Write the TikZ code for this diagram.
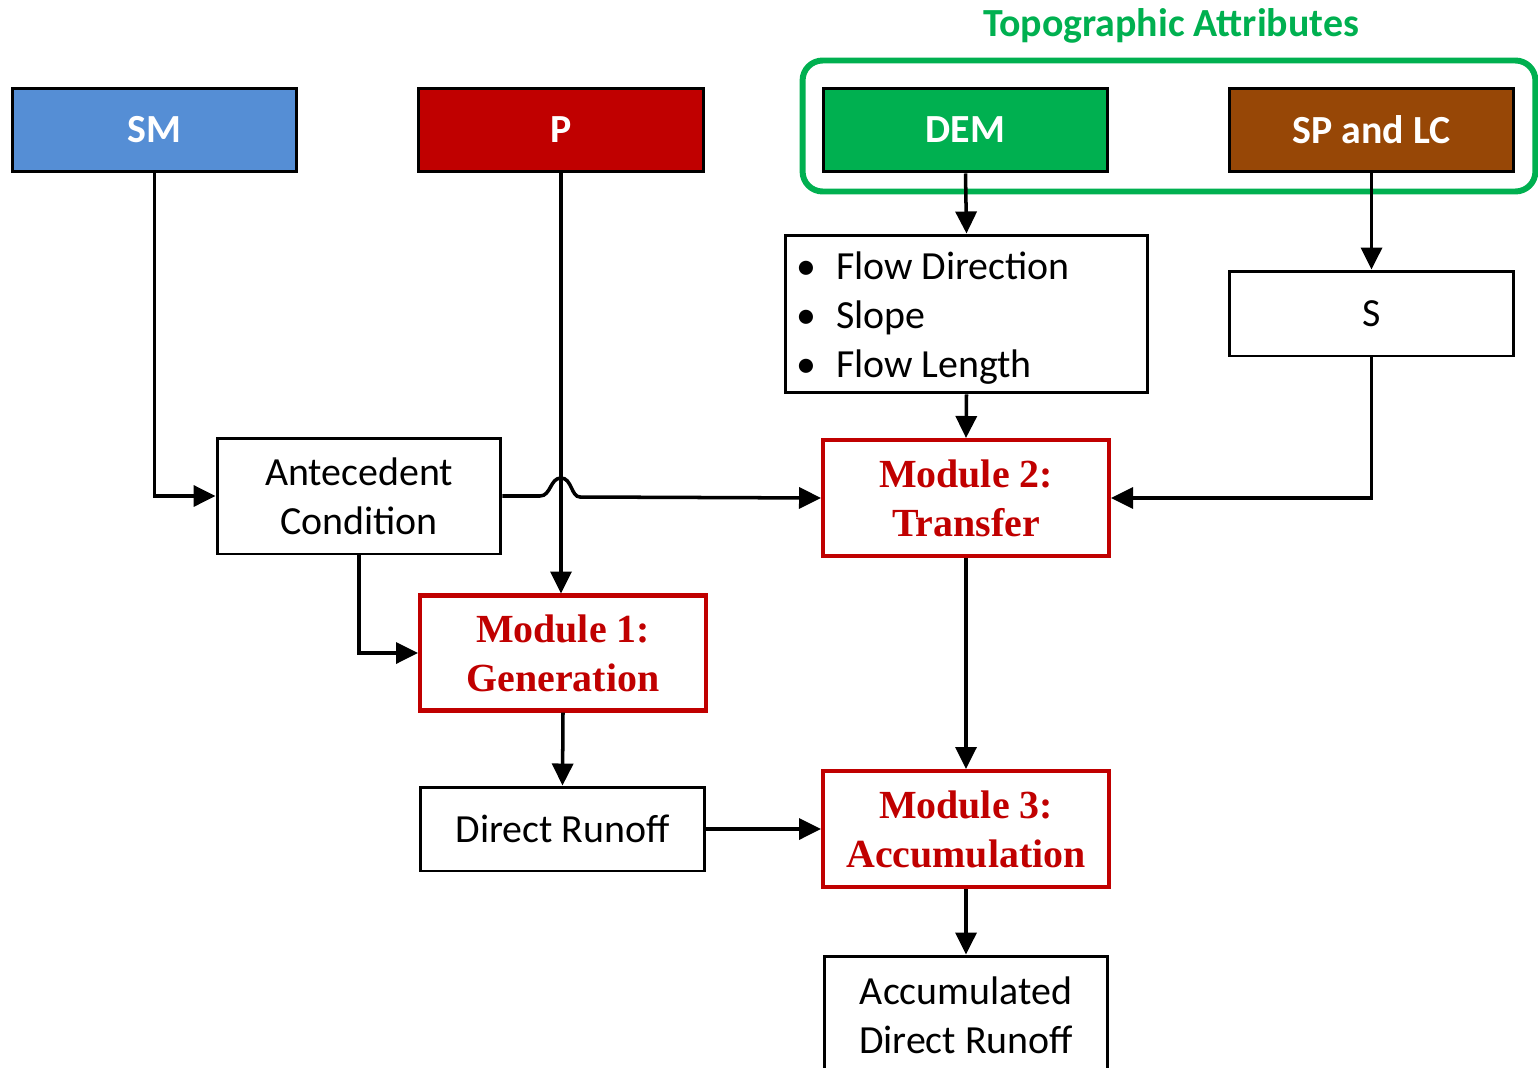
\documentclass[tikz,border=0pt]{standalone}
\usepackage{fontspec}
\setmainfont{Carlito}
\newfontfamily\tnr{Liberation Serif}
\usetikzlibrary{arrows.meta,calc}
\definecolor{smblue}{HTML}{558ED5}
\definecolor{pred}{HTML}{C00000}
\definecolor{demgreen}{HTML}{00B050}
\definecolor{spbrown}{HTML}{974706}
\newcommand{\fsz}{\fontsize{22.7}{27.8}\selectfont}
\newcommand{\bul}{\makebox[0.72cm][l]{\hspace{-0.08cm}•}}
\tikzset{
  box/.style={draw=black, line width=1.7pt, inner sep=0pt, minimum width=5.7cm, minimum height=1.68cm, align=center, font=\fsz},
  inbox/.style={box, text=white, font=\fsz\bfseries},
  modbox/.style={draw=pred, line width=2.3pt, inner sep=0pt, minimum width=5.72cm, minimum height=2.32cm, align=center, text=pred, font=\fsz\tnr\bfseries},
  conn/.style={line width=2pt, -{Triangle[length=0.44cm, width=0.42cm]}},
}
\begin{document}
\begin{tikzpicture}[x=0.02cm, y=-0.02cm]
\useasboundingbox (0,0) rectangle (1538,1068);
% group frame
\node[draw=demgreen, line width=3.4pt, rounded corners=0.4cm, minimum width=14.66cm, minimum height=2.62cm, inner sep=0pt] (topo) at (1169,126) {};
\node[text=demgreen, font=\fsz\bfseries, inner sep=0pt] (topotitle) at (1171,26) {Topographic Attributes};
% inputs
\node[inbox, fill=smblue] (SM) at (154.5,130) {SM};
\node[inbox, fill=pred] (P) at (561,130) {P};
\node[inbox, fill=demgreen] (DEM) at (965.5,130) {DEM};
\node[inbox, fill=spbrown] (SP) at (1371.5,130) {SP and LC};
% derived
\node[box, minimum width=7.26cm, minimum height=3.16cm] (flow) at (966.5,314)
  {\raisebox{-0.08cm}[\height][\depth]{\parbox{6.66cm}{\fsz\raggedright
   \bul Flow Direction\\
   \bul Slope\\
   \bul Flow Length}}};
\node[box, minimum height=1.7cm] (S) at (1371.5,313.5) {S};
\node[box, minimum width=5.68cm, minimum height=2.32cm] (anc) at (359,496) {Antecedent\\Condition};
% modules
\node[modbox] (mod2) at (966,498) {Module 2:\\Transfer};
\node[modbox, minimum height=2.3cm] (mod1) at (563,653) {Module 1:\\Generation};
\node[box] (dr) at (562.5,829) {Direct Runoff};
\node[modbox] (mod3) at (966,829) {Module 3:\\Accumulation};
\node[box, minimum width=5.68cm, minimum height=2.36cm] (acc) at (966,1015) {Accumulated\\Direct Runoff};
% connectors
\draw[conn] (SM.south) |- (anc.west);
\draw[conn] (P.south) -- (P.south |- mod1.north);
\coordinate (hop) at (anc.east -| P.south);
\draw[conn] (anc.east) -- ($(hop)+(-21,0)$) .. controls ($(hop)+(-10,0)$) and ($(hop)+(-11,-18)$) .. ($(hop)+(0,-18)$) .. controls ($(hop)+(11,-18)$) and ($(hop)+(10,1)$) .. ($(hop)+(19,1)$) -- (mod2.west);
\draw[conn] (anc.south) |- (mod1.west);
\draw[conn] (DEM.south) -- (flow.north);
\draw[conn] (SP.south) -- (S.north);
\draw[conn] (flow.south) -- (mod2.north);
\draw[conn] (S.south) |- (mod2.east);
\draw[conn] (mod2.south) -- (mod3.north);
\draw[conn] (mod1.south) -- (dr.north);
\draw[conn] (dr.east) -- (mod3.west);
\draw[conn] (mod3.south) -- (acc.north);
\end{tikzpicture}
\end{document}
